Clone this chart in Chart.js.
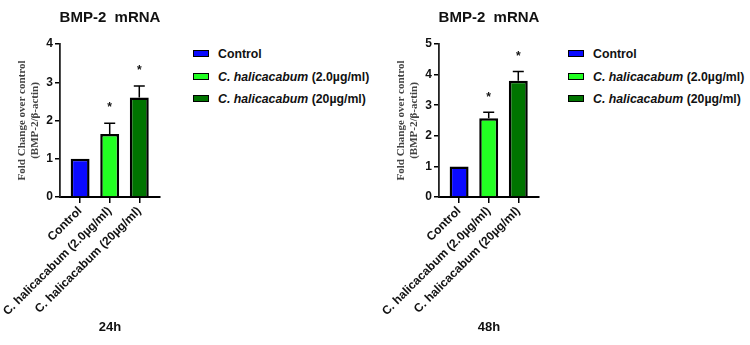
<!DOCTYPE html>
<html>
<head>
<meta charset="utf-8">
<script src="https://cdn.jsdelivr.net/npm/chart.js@4.4.1/dist/chart.umd.min.js"></script>
<style>
  body { margin:0; width:750px; height:345px; background:#fff; position:relative; overflow:hidden; font-family:Arial, "Liberation Sans", sans-serif; }
  .panel { position:absolute; top:0; width:185px; height:345px; }
  .legend { position:absolute; top:45px; font-weight:bold; font-size:12.3px; color:#111; }
  .legend div { height:22.5px; line-height:18px; white-space:nowrap; }
  .legend .box { display:inline-block; width:14px; height:5px; border:1.5px solid #000; margin-right:9px; vertical-align:middle; position:relative; top:-1px; }
</style>
</head>
<body>
<div class="panel" style="left:0px"><canvas id="c24" width="185" height="345"></canvas></div>
<div class="panel" style="left:379px"><canvas id="c48" width="185" height="345"></canvas></div>
<div class="legend" id="leg24" style="left:193px"></div>
<div class="legend" id="leg48" style="left:568px"></div>
<script>
// values
var categories = ['Control', 'C. halicacabum (2.0µg/ml)', 'C. halicacabum (20µg/ml)'];
var legendNames = [['', 'Control'], ['C. halicacabum', ' (2.0µg/ml)'], ['C. halicacabum', ' (20µg/ml)']];
var colors = ['#0a0aff', '#22ff22', '#007400'];
var stars = ['', '*', '*'];

var mean24 = [1.0, 1.65, 2.6];
var sem24 = [0, 0.28, 0.3];
var yTicks24 = [0, 1, 2, 3, 4];

var mean48 = [1.0, 2.57, 3.8];
var sem48 = [0, 0.2, 0.3];
var yTicks48 = [0, 1, 2, 3, 4, 5];

var panelTitle = 'BMP-2  mRNA';
var yTitle = ['Fold Change over control', '(BMP-2/β-actin)'];

// error bars + asterisks + title
var extras = {
  id: 'extras',
  afterDatasetsDraw: function(chart) {
    var o = chart.options.plugins.extras;
    var ctx = chart.ctx, ys = chart.scales.y;
    var meta = chart.getDatasetMeta(0);
    ctx.save();
    ctx.strokeStyle = '#000';
    ctx.lineWidth = 1.5;
    meta.data.forEach(function(bar, i) {
      var top = ys.getPixelForValue(o.mean[i] + o.sem[i]);
      if (o.sem[i] > 0) {
        ctx.beginPath();
        ctx.moveTo(bar.x, bar.y);
        ctx.lineTo(bar.x, top);
        ctx.moveTo(bar.x - 5.5, top);
        ctx.lineTo(bar.x + 5.5, top);
        ctx.stroke();
      }
      if (stars[i]) {
        ctx.fillStyle = '#111';
        ctx.font = 'bold 12px Arial';
        ctx.textAlign = 'center';
        ctx.textBaseline = 'middle';
        ctx.fillText(stars[i], bar.x, top - 15);
      }
    });
    var a = chart.chartArea;
    ctx.fillStyle = '#111';
    ctx.font = 'bold 15px Arial';
    ctx.textAlign = 'center';
    ctx.textBaseline = 'middle';
    ctx.fillText(panelTitle, (a.left + a.right) / 2, 18);
    ctx.restore();
  }
};

function makeChart(id, mean, sem, yTicks, xTitle) {
  return new Chart(document.getElementById(id), {
    type: 'bar',
    data: {
      datasets: [{
        data: mean.map(function(v, i) { return {x: i, y: v}; }),
        backgroundColor: colors,
        borderColor: '#000',
        borderWidth: 2.5,
        barPercentage: 0.64,
        categoryPercentage: 1
      }]
    },
    plugins: [extras],
    options: {
      responsive: false,
      animation: false,
      layout: { padding: { top: 44, right: 25, left: 0, bottom: 0 } },
      plugins: {
        legend: { display: false },
        tooltip: { enabled: false },
        extras: { mean: mean, sem: sem }
      },
      scales: {
        x: {
          type: 'linear',
          offset: false,
          min: -0.68,
          max: 2.7,
          afterBuildTicks: function(s) { s.ticks = categories.map(function(c, i) { return {value: i}; }); },
          afterFit: function(s) { s.height = 148; },
          ticks: {
            callback: function(v, i) { return categories[i]; },
            minRotation: 45, maxRotation: 45, autoSkip: false,
            color: '#111', padding: 1,
            font: { family: 'Arial', size: 12, weight: 'bold' }
          },
          grid: { offset: false, drawOnChartArea: false, tickLength: 6, color: '#000', lineWidth: 1.5 },
          border: { color: '#000', width: 2 },
          title: {
            display: true, text: xTitle, color: '#111',
            font: { family: 'Arial', size: 13, weight: 'bold' },
            padding: { top: 0, bottom: 10 }
          }
        },
        y: {
          min: 0,
          max: yTicks[yTicks.length - 1],
          afterBuildTicks: function(s) { s.ticks = yTicks.map(function(v) { return {value: v}; }); },
          afterFit: function(s) { s.width = 60; },
          ticks: { color: '#111', padding: 2, font: { family: 'Arial', size: 12, weight: 'bold' } },
          grid: { drawOnChartArea: false, tickLength: 5, color: '#000', lineWidth: 1.5 },
          border: { color: '#222', width: 1.8 },
          title: {
            display: true, text: yTitle, color: '#444',
            font: { family: 'Liberation Serif', size: 11, weight: 'bold', lineHeight: 1.2 },
            padding: { top: 15.5, bottom: 0 }
          }
        }
      }
    }
  });
}

function makeLegend(id) {
  var el = document.getElementById(id);
  legendNames.forEach(function(n, i) {
    var row = document.createElement('div');
    var box = document.createElement('span');
    box.className = 'box';
    box.style.background = colors[i];
    row.appendChild(box);
    if (n[0]) {
      var it = document.createElement('i');
      it.textContent = n[0];
      row.appendChild(it);
    }
    row.appendChild(document.createTextNode(n[1]));
    el.appendChild(row);
  });
}

makeChart('c24', mean24, sem24, yTicks24, '24h');
makeChart('c48', mean48, sem48, yTicks48, '48h');
makeLegend('leg24');
makeLegend('leg48');
</script>
</body>
</html>
